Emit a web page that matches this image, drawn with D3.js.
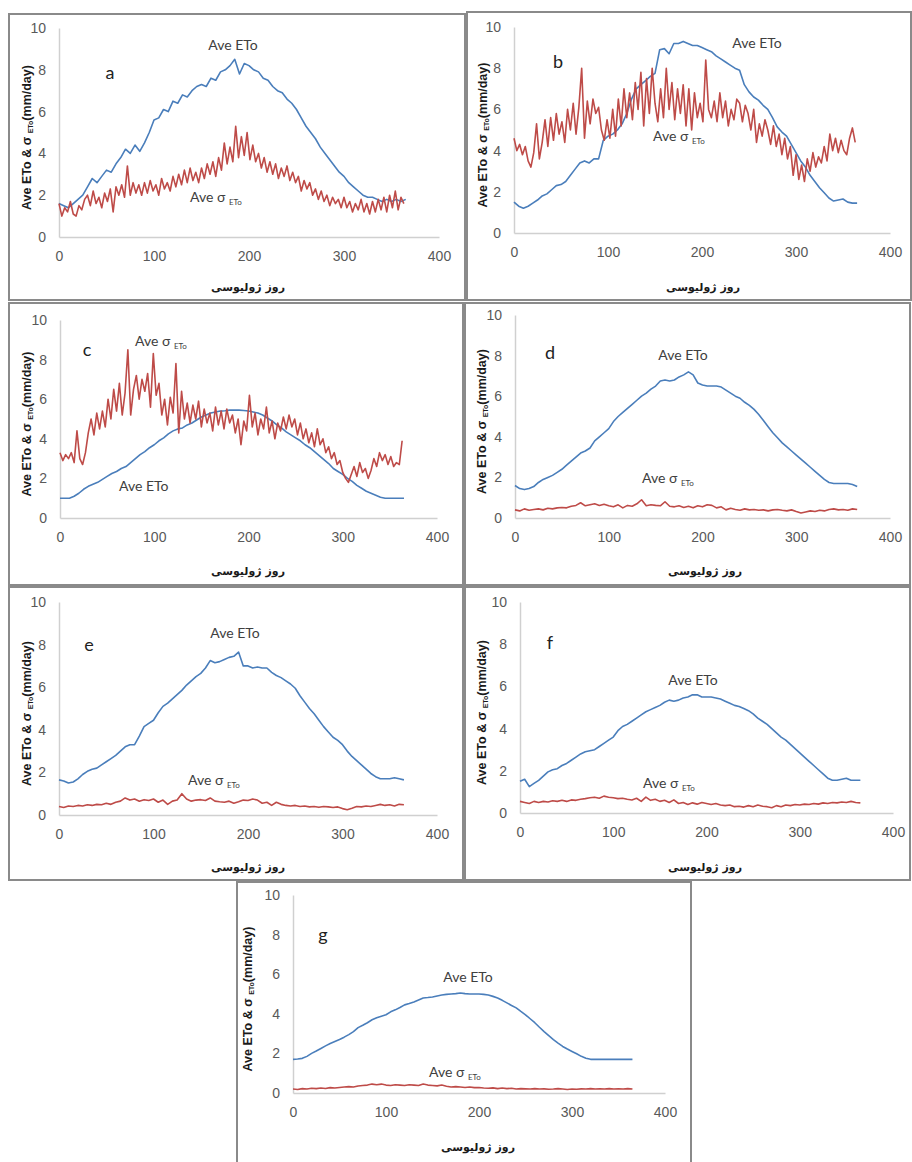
<!DOCTYPE html>
<html>
<head>
<meta charset="utf-8">
<script src="https://cdn.jsdelivr.net/npm/d3@7"></script>
<style>
  body { margin: 0; background: #fff; }
  svg text { font-family: "Liberation Sans", Arial, sans-serif; }
</style>
</head>
<body>
<script>
// x grids (julian day) for the sampled series
const days5 = d3.range(0, 366, 5)
const days3 = d3.range(0, 364, 3)

const xTicks = [0, 100, 200, 300, 400]
const yTicks = [0, 2, 4, 6, 8, 10]
const panelLetters = ["a", "b", "c", "d", "e", "f", "g"]

// panel a
const etoA = [1.6,1.5,1.4,1.6,1.8,2.0,2.4,2.8,2.6,2.9,3.2,3.1,3.5,3.8,4.2,4.0,4.4,4.1,4.5,5.0,
  5.6,5.7,6.1,6.0,6.5,6.4,6.8,6.7,7.0,7.2,7.3,7.2,7.6,7.5,7.9,8.0,8.2,8.5,7.8,8.3,
  8.2,8.0,7.9,7.6,7.5,7.2,7.0,6.9,6.6,6.4,6.1,5.7,5.3,5.0,4.7,4.3,4.0,3.7,3.4,3.1,
  2.9,2.6,2.4,2.2,2.0,1.9,1.9,1.8,1.7,1.8,1.7,1.8,1.7,1.8]
const sigA = [1.6,1.0,1.4,1.2,1.7,1.1,1.0,1.5,1.3,1.8,
  2.0,1.5,2.2,1.6,1.9,1.4,2.1,1.7,2.3,1.2,
  2.4,2.0,2.5,1.9,3.4,2.0,2.6,2.1,2.5,2.0,
  2.6,2.1,2.7,2.2,2.5,2.0,2.8,2.3,2.6,2.2,
  2.9,2.4,3.0,2.5,3.2,2.6,3.3,2.7,3.1,2.6,
  3.3,2.8,3.5,3.0,3.6,2.9,3.8,3.2,4.5,3.5,
  4.3,3.6,5.3,3.8,4.8,3.9,5.0,3.7,4.4,3.6,
  4.0,3.3,3.8,3.1,3.6,3.0,3.5,2.8,3.3,2.9,
  3.4,2.7,3.1,2.6,2.9,2.2,2.7,2.3,2.6,2.0,
  2.3,1.8,2.2,1.7,2.0,1.5,1.9,1.6,1.8,1.4,
  1.9,1.4,1.7,1.2,1.6,1.3,1.8,1.2,1.6,1.1,
  1.7,1.2,1.8,1.3,1.9,1.2,2.0,1.4,2.2,1.3,
  1.9,1.6]

// panel b
const etoB = [1.5,1.3,1.2,1.3,1.45,1.6,1.8,1.9,2.1,2.3,2.35,2.5,2.8,3.1,3.4,3.5,3.4,3.6,3.6,4.5,
  4.7,4.8,5.0,5.3,5.8,6.5,7.0,7.2,7.4,7.6,7.75,8.9,8.95,8.7,9.2,9.2,9.3,9.2,9.1,9.1,
  9.0,8.9,8.8,8.6,8.45,8.3,8.15,8.0,7.9,7.2,6.85,6.6,6.45,6.2,6.0,5.6,5.15,4.9,4.7,4.3,
  3.9,3.5,3.2,2.8,2.5,2.2,1.95,1.7,1.55,1.6,1.65,1.5,1.45,1.45]
const sigB = [4.6,4.0,4.3,3.8,4.2,3.5,3.2,3.9,5.3,3.6,
  4.4,5.5,4.2,5.6,4.5,5.8,4.8,5.4,4.4,6.0,
  5.0,6.3,4.8,6.1,8.0,4.6,6.4,5.3,6.5,5.8,
  6.1,5.0,4.5,5.5,4.6,6.0,4.7,6.5,5.2,7.0,
  5.6,6.8,5.5,7.3,6.0,7.8,5.2,7.5,5.8,8.0,
  6.3,5.4,7.0,5.6,8.0,6.0,7.3,5.5,7.0,5.8,
  7.2,5.2,7.0,5.0,6.8,5.6,6.3,5.4,8.4,6.0,
  5.6,6.4,5.4,6.8,5.6,6.4,5.2,6.0,5.5,6.5,
  6.3,5.4,6.2,5.8,5.0,6.0,4.4,5.3,4.7,5.5,
  5.0,4.3,5.2,4.2,4.8,3.8,4.6,3.6,4.2,2.8,
  3.8,2.6,3.3,2.5,3.6,3.0,3.9,3.2,3.7,3.4,
  4.2,3.5,4.8,4.0,4.6,3.9,4.5,4.0,3.8,4.6,
  5.1,4.4]

// panel c
const etoC = [1.0,1.0,1.0,1.1,1.25,1.45,1.6,1.7,1.8,1.95,2.1,2.25,2.35,2.5,2.6,2.8,3.0,3.2,3.35,3.55,
  3.7,3.9,4.05,4.25,4.4,4.5,4.55,4.7,4.8,4.95,5.1,5.2,5.3,5.35,5.4,5.42,5.45,5.45,5.45,5.43,
  5.4,5.35,5.3,5.2,5.05,4.9,4.7,4.55,4.35,4.2,4.05,3.9,3.7,3.55,3.35,3.15,2.95,2.75,2.5,2.35,
  2.2,2.0,1.85,1.65,1.5,1.35,1.25,1.15,1.05,1.0,1.0,1.0,1.0,1.0]
const sigC = [3.3,2.9,3.2,3.0,3.3,2.8,4.4,3.0,2.7,3.3,
  4.3,5.0,4.2,5.3,4.5,5.4,4.6,6.0,5.0,6.5,
  5.4,6.8,5.2,6.3,8.5,5.2,6.5,7.2,6.0,7.0,
  6.4,7.3,5.6,8.3,6.2,6.8,5.2,6.0,4.7,6.1,
  5.3,7.8,4.3,6.4,5.0,5.8,4.8,5.7,5.0,5.9,
  4.6,5.5,4.8,5.3,4.4,5.6,4.7,5.4,4.5,5.5,
  4.8,5.2,4.3,5.0,3.7,4.9,4.4,6.2,4.6,5.3,
  4.2,5.0,4.5,5.6,4.3,4.9,4.0,4.8,4.4,5.1,
  4.5,5.2,4.6,5.0,4.2,4.8,4.0,4.5,3.8,4.3,
  3.6,4.5,3.7,4.0,3.3,3.6,3.0,3.3,2.7,2.9,
  2.3,2.0,1.8,2.2,2.6,2.1,2.8,2.3,2.5,2.0,
  2.4,3.0,2.6,3.3,2.9,3.2,2.7,3.1,2.6,2.8,
  2.7,3.9]

// panel d
const etoD = [1.6,1.45,1.4,1.45,1.55,1.75,1.9,2.0,2.1,2.25,2.4,2.6,2.8,3.0,3.2,3.3,3.45,3.8,4.0,4.2,
  4.4,4.75,5.0,5.2,5.4,5.6,5.8,6.0,6.15,6.35,6.5,6.75,6.8,6.75,6.8,6.95,7.05,7.2,7.05,6.65,
  6.55,6.5,6.5,6.5,6.45,6.3,6.15,6.0,5.9,5.7,5.55,5.35,5.1,4.8,4.5,4.2,3.95,3.7,3.5,3.3,
  3.1,2.9,2.7,2.5,2.3,2.1,1.9,1.75,1.7,1.7,1.7,1.7,1.65,1.55]
const sigD = [0.4,0.35,0.45,0.38,0.42,0.45,0.4,0.48,0.45,0.5,0.52,0.5,0.58,0.62,0.75,0.6,0.65,0.7,0.62,0.68,
  0.6,0.55,0.65,0.5,0.62,0.58,0.7,0.9,0.6,0.65,0.62,0.6,0.8,0.58,0.55,0.6,0.52,0.58,0.5,0.6,
  0.55,0.65,0.62,0.5,0.55,0.4,0.48,0.42,0.38,0.45,0.4,0.42,0.38,0.4,0.35,0.4,0.42,0.38,0.35,0.4,
  0.32,0.25,0.3,0.35,0.32,0.38,0.35,0.42,0.45,0.4,0.42,0.38,0.45,0.42]

// panel e
const etoE = [1.65,1.6,1.5,1.55,1.7,1.9,2.05,2.15,2.2,2.35,2.5,2.65,2.8,3.0,3.2,3.3,3.3,3.7,4.15,4.3,
  4.45,4.8,5.1,5.25,5.45,5.65,5.85,6.1,6.3,6.5,6.65,6.9,7.25,7.15,7.2,7.3,7.4,7.45,7.65,7.0,
  7.0,6.9,6.95,6.9,6.9,6.7,6.55,6.45,6.3,6.15,5.95,5.6,5.3,5.0,4.75,4.45,4.15,3.9,3.65,3.5,
  3.3,3.0,2.75,2.55,2.35,2.15,1.95,1.8,1.7,1.7,1.7,1.75,1.7,1.65]
const sigE = [0.4,0.35,0.42,0.4,0.45,0.42,0.48,0.45,0.5,0.48,0.55,0.5,0.6,0.65,0.8,0.7,0.75,0.65,0.72,0.68,
  0.75,0.6,0.7,0.5,0.65,0.7,1.0,0.75,0.65,0.7,0.72,0.68,0.8,0.65,0.62,0.6,0.65,0.55,0.62,0.7,
  0.68,0.75,0.7,0.55,0.6,0.45,0.6,0.5,0.45,0.42,0.45,0.4,0.42,0.38,0.4,0.36,0.4,0.38,0.35,0.38,
  0.3,0.25,0.32,0.4,0.38,0.42,0.4,0.45,0.5,0.45,0.48,0.42,0.5,0.48]

// panel f
const etoF = [1.5,1.6,1.25,1.4,1.55,1.75,1.95,2.05,2.1,2.25,2.35,2.5,2.65,2.8,2.9,2.95,3.0,3.15,3.3,3.45,
  3.6,3.9,4.1,4.2,4.35,4.5,4.65,4.8,4.9,5.0,5.1,5.25,5.35,5.3,5.35,5.45,5.5,5.6,5.6,5.5,
  5.5,5.5,5.45,5.4,5.3,5.2,5.1,5.05,4.95,4.85,4.7,4.5,4.35,4.2,4.0,3.8,3.6,3.45,3.25,3.05,
  2.85,2.65,2.45,2.25,2.05,1.85,1.65,1.55,1.55,1.6,1.65,1.55,1.55,1.55]
const sigF = [0.55,0.5,0.45,0.55,0.5,0.55,0.52,0.58,0.55,0.6,0.55,0.62,0.6,0.65,0.68,0.72,0.75,0.7,0.8,0.75,
  0.72,0.68,0.7,0.65,0.62,0.7,0.55,0.75,0.6,0.65,0.55,0.6,0.5,0.62,0.45,0.5,0.4,0.48,0.42,0.5,
  0.45,0.4,0.45,0.38,0.35,0.38,0.3,0.32,0.28,0.35,0.3,0.38,0.32,0.3,0.25,0.35,0.3,0.38,0.35,0.4,
  0.38,0.42,0.4,0.45,0.42,0.48,0.45,0.5,0.48,0.52,0.5,0.55,0.5,0.48]

// panel g
const etoG = [1.7,1.72,1.75,1.85,2.0,2.12,2.25,2.38,2.5,2.6,2.7,2.82,2.95,3.1,3.3,3.42,3.55,3.7,3.8,3.88,
  3.95,4.1,4.2,4.32,4.45,4.52,4.6,4.7,4.8,4.82,4.85,4.9,4.95,4.98,5.0,5.02,5.05,5.02,5.0,5.0,
  5.0,4.98,4.95,4.88,4.8,4.68,4.55,4.42,4.3,4.12,3.95,3.75,3.55,3.32,3.1,2.9,2.7,2.52,2.35,2.22,
  2.1,1.98,1.85,1.76,1.7,1.7,1.7,1.7,1.7,1.7,1.7,1.7,1.7,1.7]
const sigG = [0.2,0.18,0.22,0.2,0.24,0.22,0.25,0.23,0.27,0.25,0.28,0.3,0.32,0.3,0.35,0.38,0.4,0.45,0.42,0.45,
  0.4,0.38,0.42,0.4,0.38,0.42,0.4,0.38,0.45,0.4,0.38,0.36,0.4,0.34,0.3,0.32,0.3,0.28,0.3,0.27,
  0.28,0.25,0.24,0.26,0.22,0.25,0.22,0.24,0.2,0.22,0.21,0.2,0.22,0.2,0.21,0.19,0.2,0.22,0.2,0.18,
  0.2,0.19,0.21,0.2,0.22,0.2,0.21,0.2,0.22,0.2,0.21,0.2,0.22,0.2]

const W = 912, H = 1162
const blue = "#4a7ebb", red = "#be4b48"

// layout of the 7 boxes (pixel positions in the page)
var panels = [
  {box:[9,14,465,300],  px:[59,439],  py:[237,28],   eto:etoA, etoX:days5, sig:sigA, sigX:days3,
   letter:[110,79], etoLab:[233,50,"middle"], sigLab:[190,202], xlab:[248,291], ylabX:27},
  {box:[467,12,911,300], px:[514,890], py:[233,27],  eto:etoB, etoX:days5, sig:sigB, sigX:days3,
   letter:[558,68], etoLab:[757,48,"middle"], sigLab:[653,141], xlab:[703,291], ylabX:483},
  {box:[9,303,463,585], px:[60,437],  py:[518,320],  eto:etoC, etoX:days5, sig:sigC, sigX:days3,
   letter:[87,356], etoLab:[119,491,"start"], sigLab:[135,346], xlab:[248,575], ylabX:27},
  {box:[465,303,910,585], px:[515,890], py:[518,315], eto:etoD, etoX:days5, sig:sigD, sigX:days5,
   letter:[550,359], etoLab:[683,360,"middle"], sigLab:[642,483], xlab:[705,575], ylabX:482},
  {box:[9,587,463,880], px:[59,437],  py:[815,602],  eto:etoE, etoX:days5, sig:sigE, sigX:days5,
   letter:[89,651], etoLab:[235,638,"middle"], sigLab:[188,785], xlab:[248,871], ylabX:27},
  {box:[465,587,910,880], px:[520,893], py:[813,602], eto:etoF, etoX:days5, sig:sigF, sigX:days5,
   letter:[550,649], etoLab:[693,685,"middle"], sigLab:[643,788], xlab:[705,871], ylabX:482},
  {box:[237,882,691,1170], px:[293,665], py:[1093,895], eto:etoG, etoX:days5, sig:sigG, sigX:days5,
   letter:[323,941], etoLab:[468,982,"middle"], sigLab:[429,1077], xlab:[478,1151], ylabX:248}
]

const svg = d3.select("body").append("svg")
  .attr("width", W)
  .attr("height", H)

svg.append("rect").attr("width", W).attr("height", H).attr("fill", "#fff")

panels.forEach(function(p, i) {
  var g = svg.append("g")
  var b = p.box

  g.append("rect")
    .attr("x", b[0]).attr("y", b[1])
    .attr("width", b[2] - b[0]).attr("height", b[3] - b[1])
    .attr("fill", "none")
    .attr("stroke", "#8a8a8a")
    .attr("stroke-width", 2)

  var x = d3.scaleLinear().domain([0, 400]).range(p.px)
  var y = d3.scaleLinear().domain([0, 10]).range(p.py)

  // axes, excel style: plain light lines, no tick marks
  var xAxis = g.append("g").attr("transform", "translate(0," + p.py[0] + ")")
    .call(d3.axisBottom(x).tickValues(xTicks).tickSize(0).tickPadding(14))
  var yAxis = g.append("g").attr("transform", "translate(" + p.px[0] + ",0)")
    .call(d3.axisLeft(y).tickValues(yTicks).tickSize(0).tickPadding(13))
  ;[xAxis, yAxis].forEach(function(a) {
    a.select(".domain").attr("stroke", "#d0d0d0").attr("stroke-width", 1.5)
    a.selectAll("text")
      .attr("fill", "#595959")
      .style("font-size", "14px")
      .style("font-family", "'Liberation Sans', Arial, sans-serif")
  })

  var line = d3.line().x(d => x(d[0])).y(d => y(d[1]))

  g.append("path")
    .datum(d3.zip(p.etoX, p.eto))
    .attr("d", line)
    .attr("fill", "none")
    .attr("stroke", blue)
    .attr("stroke-width", 1.6)
    .attr("stroke-linejoin", "round")

  g.append("path")
    .datum(d3.zip(p.sigX, p.sig))
    .attr("d", line)
    .attr("fill", "none")
    .attr("stroke", red)
    .attr("stroke-width", 1.6)
    .attr("stroke-linejoin", "round")

  // y axis title with subscript
  var ymid = (p.py[0] + p.py[1]) / 2 + 5
  var yl = g.append("text")
    .attr("transform", "translate(" + p.ylabX + "," + ymid + ") rotate(-90)")
    .attr("text-anchor", "middle")
    .attr("dominant-baseline", "central")
    .attr("fill", "#1a1a1a")
    .style("font-size", "12.5px")
    .style("font-weight", "bold")
  yl.append("tspan").text("Ave ETo & σ ")
  yl.append("tspan").attr("dy", 3).style("font-size", "7px").text("ETo")
  yl.append("tspan").attr("dy", -3).text("(mm/day)")

  // x axis title
  g.append("text")
    .attr("x", p.xlab[0]).attr("y", p.xlab[1])
    .attr("text-anchor", "middle")
    .attr("fill", "#1a1a1a")
    .style("font-family", "'DejaVu Sans', sans-serif")
    .style("font-size", "11px")
    .style("font-weight", "bold")
    .text("روز ژولیوسی")

  // panel letter
  g.append("text")
    .attr("x", p.letter[0]).attr("y", p.letter[1])
    .attr("text-anchor", "middle")
    .attr("fill", "#222")
    .style("font-family", "Lato, sans-serif")
    .style("font-size", "18px")
    .text(panelLetters[i])

  // series labels
  g.append("text")
    .attr("x", p.etoLab[0]).attr("y", p.etoLab[1])
    .attr("text-anchor", p.etoLab[2])
    .attr("fill", "#404040")
    .style("font-family", "Lato, sans-serif")
    .style("font-size", "14px")
    .text("Ave ETo")

  var sl = g.append("text")
    .attr("x", p.sigLab[0]).attr("y", p.sigLab[1])
    .attr("fill", "#404040")
    .style("font-family", "Lato, sans-serif")
    .style("font-size", "14px")
  sl.append("tspan").text("Ave σ ")
  sl.append("tspan").attr("dy", 3).style("font-size", "8px").text("ETo")
})
</script>
</body>
</html>
